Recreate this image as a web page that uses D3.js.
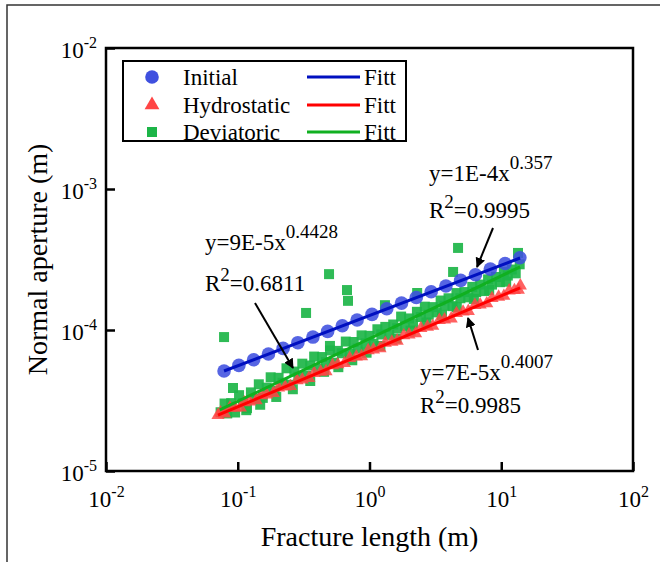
<!DOCTYPE html>
<html>
<head>
<meta charset="utf-8">
<script src="https://cdn.jsdelivr.net/npm/d3@7/dist/d3.min.js"></script>
<style>
  body { margin: 0; background: #fff; }
  svg { display: block; }
  svg text { font-family: "Liberation Serif", "Times New Roman", serif; }
</style>
</head>
<body>
<svg width="660" height="562"></svg>
<script>
// ---- data ----
var decades = [0.01, 0.1, 1, 10, 100];
var yDecades = [1e-5, 1e-4, 1e-3, 1e-2];
var decadeExp = {"0.01": "-2", "0.1": "-1", "1": "0", "10": "1", "100": "2",
                 "0.00001": "-5", "0.0001": "-4", "0.001": "-3"};

var initialX = [0.0787, 0.102, 0.132, 0.171, 0.221, 0.286, 0.372, 0.481, 0.622, 0.805, 1.045,
                1.352, 1.750, 2.265, 2.938, 3.802, 4.920, 6.368, 8.260, 10.69, 13.84];
var initialY = [5.12e-5, 5.61e-5, 6.15e-5, 6.76e-5, 7.41e-5, 8.13e-5, 8.91e-5, 9.77e-5, 1.072e-4, 1.178e-4, 1.291e-4,
                1.416e-4, 1.552e-4, 1.702e-4, 1.866e-4, 2.051e-4, 2.249e-4, 2.466e-4, 2.704e-4, 2.965e-4, 3.251e-4];

var hydroX = [0.0708, 0.0741, 0.0794, 0.0871, 0.0955, 0.1047, 0.1122, 0.1230, 0.1380, 0.1514, 0.1660,
              0.1862, 0.2042, 0.2291, 0.2512, 0.2818, 0.3090, 0.3467, 0.3802, 0.4266, 0.4677, 0.5248,
              0.5754, 0.6457, 0.7079, 0.7943, 0.8710, 0.9772, 1.072, 1.202, 1.318, 1.479, 1.622, 1.820,
              1.995, 2.239, 2.455, 2.754, 3.020, 3.388, 3.715, 4.169, 4.571, 5.129, 5.623, 6.310, 6.918,
              7.762, 8.511, 9.550, 10.47, 11.48, 12.59, 13.49, 13.96];
var hydroY = [2.49e-5, 2.60e-5, 2.55e-5, 2.80e-5, 2.81e-5, 2.81e-5, 3.06e-5, 3.10e-5, 3.16e-5, 3.44e-5, 3.48e-5,
              3.56e-5, 3.89e-5, 3.96e-5, 3.99e-5, 4.38e-5, 4.45e-5, 4.55e-5, 4.94e-5, 5.05e-5, 5.09e-5, 5.61e-5,
              5.69e-5, 5.81e-5, 6.31e-5, 6.46e-5, 6.50e-5, 7.16e-5, 7.26e-5, 7.41e-5, 8.09e-5, 8.24e-5, 8.36e-5, 9.14e-5,
              9.27e-5, 9.44e-5, 1.028e-4, 1.052e-4, 1.067e-4, 1.175e-4, 1.183e-4, 1.205e-4, 1.315e-4, 1.346e-4, 1.361e-4, 1.500e-4, 1.514e-4,
              1.542e-4, 1.679e-4, 1.718e-4, 1.742e-4, 1.901e-4, 1.914e-4, 1.923e-4, 2.065e-4];

var deviX = [0.0741, 0.0794, 0.0832, 0.0891, 0.0955, 0.1023, 0.1096, 0.1175, 0.1259, 0.1349, 0.1445,
             0.1549, 0.1660, 0.1778, 0.1905, 0.2042, 0.2188, 0.2344, 0.2512, 0.2692, 0.2884, 0.3090,
             0.3311, 0.3548, 0.3802, 0.4074, 0.4365, 0.4677, 0.5012, 0.5370, 0.5754, 0.6166, 0.6607,
             0.7079, 0.7586, 0.8128, 0.8710, 0.9333, 1.000, 1.072, 1.148, 1.230, 1.318, 1.413, 1.514,
             1.622, 1.738, 1.862, 1.995, 2.138, 2.291, 2.455, 2.630, 2.818, 3.020, 3.236, 3.467, 3.715,
             3.981, 4.266, 4.571, 4.898, 5.248, 5.623, 6.026, 6.457, 6.918, 7.413, 7.943, 8.511, 9.120,
             9.772, 10.47, 11.22, 12.02, 12.88, 13.80,
             0.0787, 0.092, 0.330, 0.493, 0.675, 0.687, 0.501, 4.70, 4.31, 1.31, 2.30, 13.4,
             0.116, 0.148, 0.196, 0.262, 0.355, 0.452, 0.58, 0.74, 0.95, 1.21, 1.60, 2.05, 2.70, 3.55, 4.60, 6.20, 8.10, 10.9];
var deviY = [2.61e-5, 3.01e-5, 2.56e-5, 3.03e-5, 2.60e-5, 3.45e-5, 3.03e-5, 2.79e-5, 3.61e-5, 3.25e-5, 4.12e-5,
             3.30e-5, 3.90e-5, 4.62e-5, 3.70e-5, 4.58e-5, 4.22e-5, 5.35e-5, 4.09e-5, 5.07e-5, 4.66e-5, 5.77e-5,
             4.73e-5, 5.60e-5, 6.48e-5, 5.31e-5, 6.43e-5, 5.91e-5, 7.16e-5, 5.86e-5, 7.11e-5, 6.84e-5, 8.28e-5,
             6.79e-5, 8.22e-5, 7.38e-5, 9.16e-5, 8.04e-5, 9.09e-5, 7.98e-5, 1.012e-4, 9.30e-5, 1.052e-4, 9.23e-5, 1.094e-4,
             1.028e-4, 1.245e-4, 1.069e-4, 1.208e-4, 1.110e-4, 1.346e-4, 1.236e-4, 1.464e-4, 1.285e-4, 1.453e-4, 1.334e-4, 1.618e-4, 1.486e-4,
             1.679e-4, 1.476e-4, 1.828e-4, 1.679e-4, 1.858e-4, 1.706e-4, 2.022e-4, 1.858e-4, 2.099e-4, 1.888e-4, 2.286e-4, 2.099e-4, 2.377e-4,
             2.183e-4, 2.583e-4, 2.432e-4, 2.685e-4, 2.523e-4, 2.924e-4,
             8.91e-5, 3.88e-5, 1.321e-4, 2.49e-4, 1.92e-4, 1.61e-4, 7.71e-5, 3.82e-4, 2.58e-4, 1.50e-4, 1.83e-4, 3.52e-4,
             2.70e-5, 2.95e-5, 3.35e-5, 3.80e-5, 4.35e-5, 5.05e-5, 5.45e-5, 6.10e-5, 6.90e-5, 7.70e-5, 8.70e-5, 9.90e-5, 1.13e-4, 1.28e-4, 1.45e-4, 1.66e-4, 1.92e-4, 2.20e-4];

// fitted power laws are straight on log-log: end points only
var fitInitial = [[0.0787, 5.12e-5], [13.9, 3.24e-4]];
var fitHydro = [[0.0708, 2.49e-5], [13.9, 1.99e-4]];
var fitDevi = [[0.073, 2.71e-5], [13.9, 2.80e-4]];

var legendNames = ["Initial", "Hydrostatic", "Deviatoric"];
var fitLabel = "Fitt";

var colors = {
  initial: "#3f50df", initialLine: "#0010c0",
  hydro: "#ff4545", hydroLine: "#ff0000",
  devi: "#1db548", deviLine: "#10b020"
};

var box = {left: 106, right: 633, top: 48, bottom: 471};

var svg = d3.select("svg");

// outer frame of the figure
svg.append("rect")
  .attr("x", 7).attr("y", 5)
  .attr("width", 700).attr("height", 600)
  .attr("fill", "none").attr("stroke", "#333").attr("stroke-width", 1.5);

var xScale = d3.scaleLog().domain([0.01, 100]).range([box.left, box.right]);
var yScale = d3.scaleLog().domain([1e-5, 1e-2]).range([box.bottom, box.top]);

var defs = svg.append("defs");
defs.append("marker")
  .attr("id", "arrow")
  .attr("viewBox", "0 0 10 10")
  .attr("refX", 9).attr("refY", 5)
  .attr("markerWidth", 5).attr("markerHeight", 5)
  .attr("markerUnits", "strokeWidth")
  .attr("orient", "auto")
  .append("path").attr("d", "M0,0 L10,5 L0,10 z").attr("fill", "#000");

var supText = function(sel, base, sup, size, supSize, lift)
{
  sel.text(null);
  sel.append("tspan").text(base).attr("font-size", size);
  sel.append("tspan").text(sup).attr("font-size", supSize).attr("dy", -lift);
};

// axes
var xAxis = d3.axisBottom(xScale).tickValues(decades).tickSizeInner(-9).tickSizeOuter(0);
var yAxis = d3.axisLeft(yScale).tickValues(yDecades).tickSizeInner(-9).tickSizeOuter(0);

var gx = svg.append("g")
  .attr("transform", "translate(0," + box.bottom + ")")
  .call(xAxis);
var gy = svg.append("g")
  .attr("transform", "translate(" + box.left + ",0)")
  .call(yAxis);

[gx, gy].forEach(function(g)
{
  g.attr("font-family", null).attr("font-size", null);
  g.select(".domain").remove();
  g.selectAll(".tick line").attr("stroke", "#000").attr("stroke-width", 2.5);
  g.selectAll(".tick text").attr("fill", "#000");
});

gx.selectAll(".tick text")
  .attr("y", 36).attr("dy", 0).attr("text-anchor", "middle")
  .each(function(d)
  {
    supText(d3.select(this), "10", decadeExp[String(d)], 23, 16, 10);
  });

gy.selectAll(".tick text")
  .attr("x", -9).attr("dy", 0).attr("y", 9).attr("text-anchor", "end")
  .each(function(d)
  {
    var key = d === 1e-5 ? "0.00001" : String(d);
    supText(d3.select(this), "10", decadeExp[key], 23, 16, 10);
  });

// scatter
var plot = svg.append("g");

plot.selectAll(".devi")
  .data(d3.range(deviX.length))
  .enter().append("path")
  .attr("class", "devi")
  .attr("d", d3.symbol().type(d3.symbolSquare).size(100)())
  .attr("transform", function(i){ return "translate(" + xScale(deviX[i]) + "," + yScale(deviY[i]) + ")"; })
  .attr("fill", colors.devi).attr("fill-opacity", 0.92);

plot.selectAll(".hydro")
  .data(d3.range(hydroX.length))
  .enter().append("path")
  .attr("class", "hydro")
  .attr("d", d3.symbol().type(d3.symbolTriangle).size(75)())
  .attr("transform", function(i){ return "translate(" + xScale(hydroX[i]) + "," + yScale(hydroY[i]) + ")"; })
  .attr("fill", colors.hydro).attr("fill-opacity", 0.85);

plot.selectAll(".initial")
  .data(d3.range(initialX.length))
  .enter().append("circle")
  .attr("class", "initial")
  .attr("cx", function(i){ return xScale(initialX[i]); })
  .attr("cy", function(i){ return yScale(initialY[i]); })
  .attr("r", 6.8)
  .attr("fill", colors.initial).attr("fill-opacity", 0.88);

var line = d3.line()
  .x(function(d){ return xScale(d[0]); })
  .y(function(d){ return yScale(d[1]); });

[[fitDevi, colors.deviLine], [fitHydro, colors.hydroLine], [fitInitial, colors.initialLine]].forEach(function(f)
{
  plot.append("path")
    .attr("d", line(f[0]))
    .attr("fill", "none")
    .attr("stroke", f[1])
    .attr("stroke-width", 3);
});

// plot frame
svg.append("rect")
  .attr("x", box.left).attr("y", box.top)
  .attr("width", box.right - box.left).attr("height", box.bottom - box.top)
  .attr("fill", "none").attr("stroke", "#000").attr("stroke-width", 2.5);

// legend
var legend = svg.append("g");
legend.append("rect")
  .attr("x", 123).attr("y", 61).attr("width", 283).attr("height", 80)
  .attr("fill", "#fff").attr("stroke", "#000").attr("stroke-width", 2);

var legendRows = [77, 105, 132];
var legendSyms = [d3.symbolCircle, d3.symbolTriangle, d3.symbolSquare];
var legendSizes = [145, 95, 100];
var legendFill = [colors.initial, colors.hydro, colors.devi];
var legendLine = [colors.initialLine, colors.hydroLine, colors.deviLine];

legendNames.forEach(function(name, i)
{
  var y = legendRows[i];
  legend.append("path")
    .attr("d", d3.symbol().type(legendSyms[i]).size(legendSizes[i])())
    .attr("transform", "translate(152," + y + ")")
    .attr("fill", legendFill[i]);
  legend.append("text")
    .attr("x", 183).attr("y", y + 8)
    .attr("font-size", 23)
    .text(name);
  legend.append("line")
    .attr("x1", 307).attr("x2", 360)
    .attr("y1", y).attr("y2", y)
    .attr("stroke", legendLine[i]).attr("stroke-width", 3);
  legend.append("text")
    .attr("x", 364).attr("y", y + 8)
    .attr("font-size", 23)
    .text(fitLabel);
});

// annotations
var notes = [
  {x: 429, y1: 181, y2: 218, a: "y=1E-4x", p: "0.357", r: "=0.9995"},
  {x: 205, y1: 250, y2: 291, a: "y=9E-5x", p: "0.4428", r: "=0.6811"},
  {x: 420, y1: 380, y2: 413, a: "y=7E-5x", p: "0.4007", r: "=0.9985"}
];
notes.forEach(function(n)
{
  var t1 = svg.append("text").attr("x", n.x).attr("y", n.y1).attr("font-size", 23);
  t1.append("tspan").text(n.a);
  t1.append("tspan").text(n.p).attr("font-size", 19).attr("dy", -12);
  var t2 = svg.append("text").attr("x", n.x).attr("y", n.y2).attr("font-size", 23);
  t2.append("tspan").text("R");
  t2.append("tspan").text("2").attr("font-size", 19).attr("dy", -10);
  t2.append("tspan").text(n.r).attr("dy", 10);
});

var arrows = [[493, 228, 477, 267], [255, 303, 293, 368], [478, 350, 468, 318]];
arrows.forEach(function(a)
{
  svg.append("line")
    .attr("x1", a[0]).attr("y1", a[1]).attr("x2", a[2]).attr("y2", a[3])
    .attr("stroke", "#000").attr("stroke-width", 2)
    .attr("marker-end", "url(#arrow)");
});

// axis titles
svg.append("text")
  .attr("x", (box.left + box.right) / 2).attr("y", 546)
  .attr("text-anchor", "middle").attr("font-size", 28)
  .text("Fracture length (m)");

svg.append("text")
  .attr("transform", "translate(47," + ((box.top + box.bottom) / 2) + ") rotate(-90)")
  .attr("text-anchor", "middle").attr("font-size", 28)
  .text("Normal aperture (m)");
</script>
</body>
</html>
